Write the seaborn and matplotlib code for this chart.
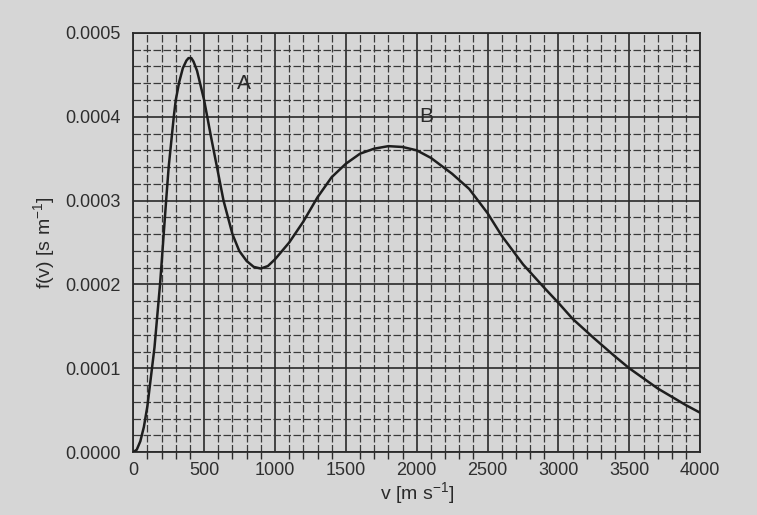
import matplotlib
matplotlib.use("Agg")
import matplotlib.pyplot as plt
import seaborn as sns
import pandas as pd
from matplotlib.ticker import MultipleLocator, FormatStrFormatter

# speed values (m/s) and distribution values f(v)
speed = [0, 25, 50, 75, 100, 125, 150, 189, 200, 232, 250, 286, 300, 325, 350,
         375, 390, 410, 425, 450, 500, 550, 600, 637, 700, 748, 800, 850, 900,
         950, 1000, 1100, 1200, 1300, 1400, 1500, 1600, 1700, 1800, 1900, 2000,
         2100, 2250, 2370, 2500, 2600, 2750, 2900, 3000, 3100, 3250, 3400, 3500,
         3600, 3700, 3800, 3900, 4000]
fv = [0.0, 0.000003, 0.000013, 0.00003, 0.000055, 0.00009, 0.000125, 0.0002,
      0.000225, 0.0003, 0.00034, 0.0004, 0.00042, 0.000442, 0.000458,
      0.000467, 0.00047, 0.00047, 0.000466, 0.000455, 0.00042, 0.000375,
      0.000332, 0.0003, 0.00026, 0.00024, 0.000228, 0.000221, 0.000219,
      0.000222, 0.00023, 0.00025, 0.000275, 0.000304, 0.000328, 0.000344,
      0.000356, 0.000362, 0.000365, 0.000364, 0.00036, 0.000351, 0.000332,
      0.000314, 0.000285, 0.000258, 0.000224, 0.000196, 0.000178, 0.000159,
      0.000136, 0.000114, 0.0001, 0.000088, 0.000076, 0.000066, 0.000056,
      0.000047]

x_ticks = [0, 500, 1000, 1500, 2000, 2500, 3000, 3500, 4000]
y_ticks = [0.0, 0.0001, 0.0002, 0.0003, 0.0004, 0.0005]
curve_labels = ["A", "B"]
label_x = [780, 2070]
label_y = [0.00044, 0.0004]

df = pd.DataFrame({"v": speed, "f": fv})

sns.set_theme(style="white")
plt.rcParams["font.family"] = ["Liberation Sans", "DejaVu Sans"]
plt.rcParams["mathtext.fontset"] = "custom"
plt.rcParams["mathtext.rm"] = "Liberation Sans"
plt.rcParams["mathtext.it"] = "Liberation Sans"

bg = "#d6d6d6"
fig = plt.figure(figsize=(7.57, 5.15), dpi=100, facecolor=bg)
ax = fig.add_axes([0.176, 0.122, 0.749, 0.814])
ax.set_facecolor(bg)

sns.lineplot(data=df, x="v", y="f", ax=ax, color="#1e1e1e", linewidth=1.8, zorder=5)

ax.set_xlim(0, 4000)
ax.set_ylim(0, 0.0005)
ax.set_xticks(x_ticks)
ax.set_yticks(y_ticks)
ax.xaxis.set_minor_locator(MultipleLocator(100))
ax.yaxis.set_minor_locator(MultipleLocator(0.00002))
ax.yaxis.set_major_formatter(FormatStrFormatter("%.4f"))

ax.grid(which="major", color="#2a2a2a", linewidth=1.2, linestyle="-")
ax.grid(which="minor", color="#3a3a3a", linewidth=0.9, linestyle=(0, (6, 2)))
ax.set_axisbelow(True)

for s in ax.spines.values():
    s.set_color("#2a2a2a")
    s.set_linewidth(1.3)

ax.tick_params(axis="both", which="major", direction="out", length=6, width=1.2,
               color="#2a2a2a", labelsize=13, labelcolor="#2e2e2e", pad=3)
ax.tick_params(axis="x", which="minor", direction="out", length=5, width=1.0,
               color="#2a2a2a", bottom=True)
ax.tick_params(axis="y", which="minor", left=False)
ax.tick_params(axis="x", which="major", length=7, pad=0)

ax.set_xlabel("v [m s$^{-1}$]", fontsize=14, color="#2a2a2a", labelpad=1)
ax.set_ylabel("f(v) [s m$^{-1}$]", fontsize=14, color="#2a2a2a", labelpad=6)

for t, xx, yy in zip(curve_labels, label_x, label_y):
    ax.text(xx, yy, t, fontsize=15, color="#2a2a2a", ha="center", va="center", zorder=6)

fig.savefig("out.png", dpi=100, facecolor=bg)
